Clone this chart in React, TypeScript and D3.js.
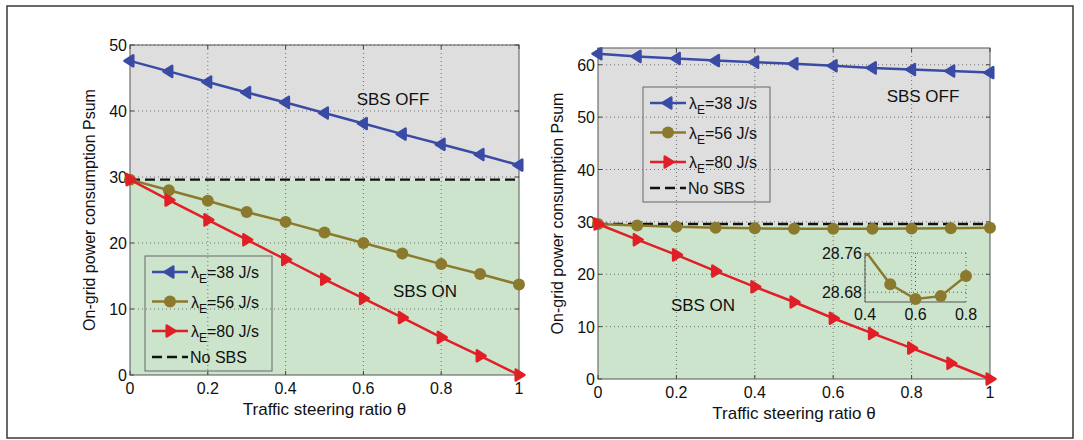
import React from "react";
import * as d3 from "d3";

// traffic steering ratio
const theta = [0, 0.1, 0.2, 0.3, 0.4, 0.5, 0.6, 0.7, 0.8, 0.9, 1];

// left panel
const leftE38 = [47.6, 46.0, 44.4, 42.8, 41.3, 39.7, 38.1, 36.5, 34.95, 33.4, 31.8];
const leftE56 = [29.6, 28.0, 26.4, 24.7, 23.2, 21.6, 20.0, 18.4, 16.8, 15.3, 13.7];
const leftE80 = [29.6, 26.5, 23.5, 20.5, 17.5, 14.5, 11.6, 8.7, 5.7, 2.9, 0];

// right panel
const rightE38 = [62.1, 61.6, 61.2, 60.8, 60.5, 60.2, 59.8, 59.4, 59.1, 58.8, 58.5];
const rightE56 = [29.6, 29.3, 29.05, 28.9, 28.765, 28.696, 28.666, 28.672, 28.713, 28.78, 28.86];
const rightE80 = [29.6, 26.6, 23.7, 20.6, 17.6, 14.7, 11.6, 8.7, 5.9, 3.0, 0];

const noSBS = 29.6;

const xTicks = [0, 0.2, 0.4, 0.6, 0.8, 1];
const xTickLabels = ["0", "0.2", "0.4", "0.6", "0.8", "1"];
const leftYTicks = [0, 10, 20, 30, 40, 50];
const rightYTicks = [0, 10, 20, 30, 40, 50, 60];
const insetXTicks = [0.4, 0.6, 0.8];
const insetYTicks = [28.68, 28.76];

const legendValues = ["38", "56", "80"];

const BLUE = "#3a4ba6";
const OLIVE = "#8b7a2d";
const RED = "#e01f27";
const GRAY_BG = "#dedede";
const GREEN_BG = "#cde4cc";
const FONT = "'Liberation Sans', Arial, sans-serif";

type Marker = "left" | "circle" | "right";

const MarkerShape = ({ kind, x, y, color, r = 5.5 }: { kind: Marker; x: number; y: number; color: string; r?: number }) => {
  if (kind === "circle") {
    return <circle cx={x} cy={y} r={r + 0.5} fill={color} />;
  }
  const d = kind === "left" ? -1 : 1;
  const pts = [
    [x + d * r, y],
    [x - d * r * 0.6, y - r],
    [x - d * r * 0.6, y + r],
  ];
  return (
    <polygon
      points={pts.map((p) => p.join(",")).join(" ")}
      fill={color}
      stroke={color}
      strokeWidth={2.5}
      strokeLinejoin="round"
    />
  );
};

const Panel = ({
  x0,
  x1,
  yTop,
  yBottom,
  yMax,
  yTicks,
  series,
  legend,
  offText,
  onText,
  inset,
}: any) => {
  const x = d3.scaleLinear().domain([0, 1]).range([x0, x1]);
  const y = d3.scaleLinear().domain([0, yMax]).range([yBottom, yTop]);
  const line = d3
    .line<number>()
    .x((_, i) => x(theta[i]))
    .y((d) => y(d));
  const clipId = `clip-${x0}`;

  return (
    <g>
      <defs>
        <clipPath id={clipId}>
          <rect x={x0 - 7} y={yTop - 7} width={x1 - x0 + 14} height={yBottom - yTop + 14} />
        </clipPath>
      </defs>
      {/* background regions */}
      <rect x={x0} y={yTop} width={x1 - x0} height={y(noSBS) - yTop} fill={GRAY_BG} />
      <rect x={x0} y={y(noSBS)} width={x1 - x0} height={yBottom - y(noSBS)} fill={GREEN_BG} />

      {/* grid */}
      {xTicks.slice(1, -1).map((t) => (
        <line key={"gx" + t} x1={x(t)} x2={x(t)} y1={yTop} y2={yBottom} stroke="#555" strokeWidth={0.8} strokeDasharray="1,3" />
      ))}
      {yTicks.slice(1).map((t: number) => (
        <line key={"gy" + t} x1={x0} x2={x1} y1={y(t)} y2={y(t)} stroke="#555" strokeWidth={0.8} strokeDasharray="1,3" />
      ))}

      {/* axes box */}
      <rect x={x0} y={yTop} width={x1 - x0} height={yBottom - yTop} fill="none" stroke="#555" strokeWidth={1} />
      {xTicks.map((t) => (
        <g key={"tx" + t}>
          <line x1={x(t)} x2={x(t)} y1={yBottom} y2={yBottom - 4} stroke="#444" />
          <line x1={x(t)} x2={x(t)} y1={yTop} y2={yTop + 4} stroke="#444" />
        </g>
      ))}
      {yTicks.map((t: number) => (
        <g key={"ty" + t}>
          <line x1={x0} x2={x0 + 4} y1={y(t)} y2={y(t)} stroke="#444" />
          <line x1={x1} x2={x1 - 4} y1={y(t)} y2={y(t)} stroke="#444" />
        </g>
      ))}

      {/* tick labels */}
      {xTicks.map((t, i) => (
        <text key={"lx" + t} x={x(t)} y={yBottom + 19} textAnchor="middle" fontSize={16} fontFamily={FONT} fill="#111">
          {xTickLabels[i]}
        </text>
      ))}
      {yTicks.map((t: number) => (
        <text key={"ly" + t} x={x0 - 3} y={y(t) + 6} textAnchor="end" fontSize={16} fontFamily={FONT} fill="#111">
          {t}
        </text>
      ))}

      {/* axis titles */}
      <text x={(x0 + x1) / 2} y={yBottom + 40} textAnchor="middle" fontSize={17} fontFamily={FONT} fill="#111">
        Traffic steering ratio θ
      </text>
      <text
        transform={`translate(${x0 - 35},${(yTop + yBottom) / 2}) rotate(-90)`}
        textAnchor="middle"
        fontSize={16}
        fontFamily={FONT}
        fill="#111"
      >
        On-grid power consumption Psum
      </text>

      {/* region labels */}
      <text x={offText[0]} y={offText[1]} textAnchor="middle" fontSize={17} fontFamily={FONT} fill="#111">
        SBS OFF
      </text>
      <text x={onText[0]} y={onText[1]} textAnchor="middle" fontSize={17} fontFamily={FONT} fill="#111">
        SBS ON
      </text>

      {/* No SBS line */}
      <line x1={x0} x2={x1} y1={y(noSBS)} y2={y(noSBS)} stroke="#111" strokeWidth={2.4} strokeDasharray="10,5" />

      {/* series */}
      <g clipPath={`url(#${clipId})`}>
        {series.map((s: any) => (
          <g key={s.color}>
            <path d={line(s.values) || ""} fill="none" stroke={s.color} strokeWidth={2.5} />
            {s.values.map((v: number, i: number) => (
              <MarkerShape key={i} kind={s.marker} x={x(theta[i])} y={y(v)} color={s.color} />
            ))}
          </g>
        ))}
      </g>

      {/* legend */}
      <g transform={`translate(${legend[0]},${legend[1]})`}>
        <rect x={0} y={0} width={127} height={115} fill="none" stroke="#666" strokeWidth={1} />
        {series.map((s: any, i: number) => {
          const ry = 16 + i * 29.5;
          return (
            <g key={"lg" + i}>
              <line x1={7} x2={43} y1={ry} y2={ry} stroke={s.color} strokeWidth={2.5} />
              <MarkerShape kind={s.marker} x={25} y={ry} color={s.color} />
              <text x={46} y={ry + 6} fontSize={16} fontFamily={FONT} fill="#111">
                λ
                <tspan fontSize={12} dy={5}>
                  E
                </tspan>
                <tspan dy={-5}>={legendValues[i]} J/s</tspan>
              </text>
            </g>
          );
        })}
        <line x1={7} x2={43} y1={101} y2={101} stroke="#111" strokeWidth={2.4} strokeDasharray="10,5" />
        <text x={45} y={107} fontSize={16} fontFamily={FONT} fill="#111">
          No SBS
        </text>
      </g>

      {inset && <Inset values={inset} />}
    </g>
  );
};

const Inset = ({ values }: { values: number[] }) => {
  const ix0 = 865;
  const ix1 = 966;
  const iyTop = 253;
  const iyBottom = 302;
  const x = d3.scaleLinear().domain([0.4, 0.8]).range([ix0, ix1]);
  const y = d3.scaleLinear().domain([28.66, 28.76]).range([iyBottom, iyTop]);
  const pts = theta.map((t, i) => [t, values[i]]).filter((p) => p[0] >= 0.4 - 1e-9 && p[0] <= 0.8 + 1e-9);
  const line = d3
    .line<number[]>()
    .x((d) => x(d[0]))
    .y((d) => y(d[1]));
  return (
    <g>
      <defs>
        <clipPath id="inset-clip">
          <rect x={ix0} y={iyTop} width={ix1 - ix0 + 8} height={iyBottom - iyTop + 8} />
        </clipPath>
      </defs>
      {insetXTicks.map((t) => (
        <line key={"igx" + t} x1={x(t)} x2={x(t)} y1={iyTop} y2={iyBottom} stroke="#333" strokeWidth={0.8} strokeDasharray="1,3" />
      ))}
      {insetYTicks.map((t) => (
        <line key={"igy" + t} x1={ix0} x2={ix1} y1={y(t)} y2={y(t)} stroke="#333" strokeWidth={0.8} strokeDasharray="1,3" />
      ))}
      <line x1={ix0} x2={ix0} y1={iyTop} y2={iyBottom} stroke="#555" strokeWidth={1} />
      <line x1={ix0} x2={ix1} y1={iyBottom} y2={iyBottom} stroke="#555" strokeWidth={1} />
      <g clipPath="url(#inset-clip)">
        <path d={line(pts) || ""} fill="none" stroke={OLIVE} strokeWidth={2.5} />
        {pts.map((p, i) => (
          <circle key={i} cx={x(p[0])} cy={y(p[1])} r={6} fill={OLIVE} />
        ))}
      </g>
      {insetXTicks.map((t) => (
        <text key={"ilx" + t} x={x(t)} y={iyBottom + 18} textAnchor="middle" fontSize={16} fontFamily={FONT} fill="#111">
          {t.toFixed(1)}
        </text>
      ))}
      {insetYTicks.map((t) => (
        <text key={"ily" + t} x={ix0 - 3} y={y(t) + 6} textAnchor="end" fontSize={16} fontFamily={FONT} fill="#111">
          {t.toFixed(2)}
        </text>
      ))}
    </g>
  );
};

export default function App() {
  return (
    <svg width={1083} height={440} style={{ position: "absolute", left: 0, top: 0 }}>
      <rect x={0} y={0} width={1083} height={440} fill="#fff" />
      <rect x={7} y={6} width={1066} height={432} fill="none" stroke="#444" strokeWidth={1.6} />
      <Panel
        x0={130}
        x1={519}
        yTop={45}
        yBottom={375}
        yMax={50}
        yTicks={leftYTicks}
        series={[
          { values: leftE38, color: BLUE, marker: "left" },
          { values: leftE56, color: OLIVE, marker: "circle" },
          { values: leftE80, color: RED, marker: "right" },
        ]}
        legend={[145, 256]}
        offText={[393, 105]}
        onText={[425, 297]}
      />
      <Panel
        x0={598}
        x1={990}
        yTop={48}
        yBottom={379}
        yMax={63.2}
        yTicks={rightYTicks}
        series={[
          { values: rightE38, color: BLUE, marker: "left" },
          { values: rightE56, color: OLIVE, marker: "circle" },
          { values: rightE80, color: RED, marker: "right" },
        ]}
        legend={[643, 87]}
        offText={[923, 102]}
        onText={[703, 311]}
        inset={rightE56}
      />
    </svg>
  );
}
